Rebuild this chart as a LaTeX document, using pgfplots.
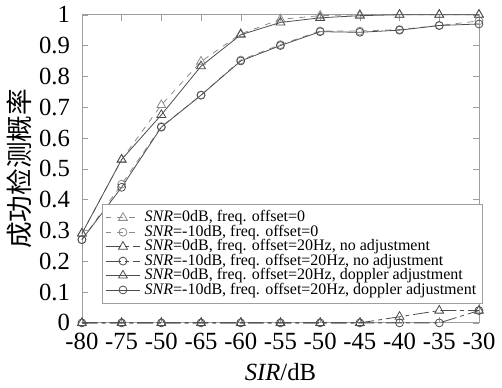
\documentclass[border=0pt]{standalone}
\usepackage{pgfplots}
\pgfplotsset{compat=1.18}
\usepackage{fontspec}
\setmainfont{Liberation Serif}
\newfontfamily\cjk{Noto Sans CJK SC}
\definecolor{axgray}{gray}{0.62}
\definecolor{dgray}{gray}{0.55}
\definecolor{sgray}{gray}{0.3}
\begin{document}
\begin{tikzpicture}
\begin{axis}[
  scale only axis,
  width=201pt, height=156pt,
  xmin=0, xmax=10, ymin=0, ymax=1,
  xtick={0,1,2,3,4,5,6,7,8,9,10},
  xticklabels={-80,-75,-50,-65,-60,-55,-50,-45,-40,-35,-30},
  ytick={0,0.1,0.2,0.3,0.4,0.5,0.6,0.7,0.8,0.9,1},
  yticklabels={0,0.1,0.2,0.3,0.4,0.5,0.6,0.7,0.8,0.9,1},
  /pgf/number format/assume math mode=true,
  tick label style={font=\fontsize{12.5}{13}\selectfont},
  axis line style={axgray},
  tick style={axgray, major tick length=3pt},
  tick align=inside,
  xlabel={\textit{SIR}/dB},
  ylabel={{\cjk 成功检测概率}},
  xlabel style={font=\fontsize{12.5}{13}\selectfont, yshift=0pt},
  ylabel style={font=\fontsize{13.5}{14}\selectfont, yshift=-3pt},
  xticklabel style={yshift=-1.5pt},
  yticklabel style={xshift=-2.5pt},
  clip=false,
  legend style={at={(1.01,0.062)}, anchor=south east, draw=axgray,
    font=\fontsize{8.1}{8}\selectfont, row sep=-3.9pt, inner sep=1.2pt,
    cells={anchor=west}, fill=white},
  legend image code/.code={
    \draw[#1] (0cm,0cm) -- (0.62cm,0cm);
    \draw[#1, mark repeat=1, mark phase=1] plot coordinates {(0.31cm,0cm)};
  },
]
\addplot[dgray, dashed, mark=triangle, mark size=2.6pt, mark options={solid}] coordinates {
(0,0.29) (1,0.53) (2,0.707) (3,0.848) (4,0.938) (5,0.985) (6,0.997) (7,1) (8,1) (9,1) (10,1)};
\addlegendentry{\textit{SNR}=0dB, freq. offset=0}
\addplot[dgray, dashed, mark=o, mark size=2pt, mark options={solid}] coordinates {
(0,0.27) (1,0.45) (2,0.637) (3,0.739) (4,0.853) (5,0.903) (6,0.947) (7,0.947) (8,0.952) (9,0.965) (10,0.98)};
\addlegendentry{\textit{SNR}=-10dB, freq. offset=0}
\addplot[sgray, dash pattern=on 8pt off 2pt on 2pt off 2pt, mark=triangle, mark size=2.6pt, mark options={solid}] coordinates {
(0,0) (1,0) (2,0) (3,0) (4,0) (5,0) (6,0) (7,0) (8,0.02) (9,0.04) (10,0.04)};
\addlegendentry{\textit{SNR}=0dB, freq. offset=20Hz, no adjustment}
\addplot[sgray, dash pattern=on 8pt off 2pt on 2pt off 2pt, mark=o, mark size=2pt, mark options={solid}] coordinates {
(0,0) (1,0) (2,0) (3,0) (4,0) (5,0) (6,0) (7,0) (8,0) (9,0) (10,0.04)};
\addlegendentry{\textit{SNR}=-10dB, freq. offset=20Hz, no adjustment}
\addplot[sgray, mark=triangle, mark size=2.6pt] coordinates {
(0,0.29) (1,0.53) (2,0.675) (3,0.833) (4,0.935) (5,0.975) (6,0.99) (7,0.997) (8,1) (9,1) (10,1)};
\addlegendentry{\textit{SNR}=0dB, freq. offset=20Hz, doppler adjustment}
\addplot[sgray, mark=o, mark size=2pt] coordinates {
(0,0.27) (1,0.44) (2,0.635) (3,0.739) (4,0.85) (5,0.9) (6,0.945) (7,0.943) (8,0.95) (9,0.965) (10,0.97)};
\addlegendentry{\textit{SNR}=-10dB, freq. offset=20Hz, doppler adjustment}
\end{axis}
\end{tikzpicture}
\end{document}
